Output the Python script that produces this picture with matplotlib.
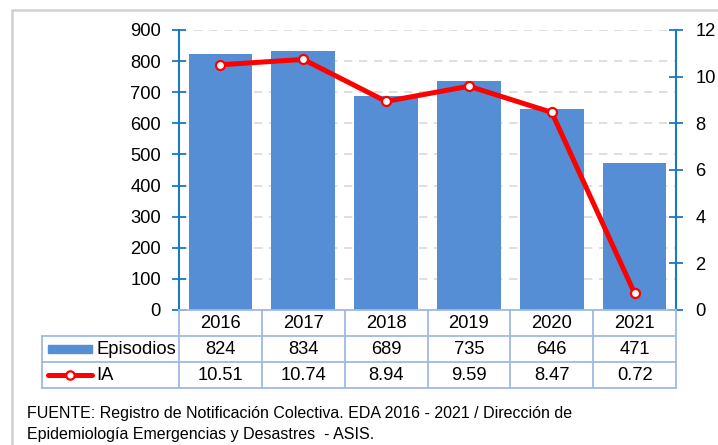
import matplotlib
matplotlib.use("Agg")
import matplotlib.pyplot as plt
import matplotlib.transforms as mtransforms
from matplotlib.patches import Rectangle
from matplotlib.lines import Line2D

years = ["2016", "2017", "2018", "2019", "2020", "2021"]
episodios = [824, 834, 689, 735, 646, 471]
ia = [10.51, 10.74, 8.94, 9.59, 8.47, 0.72]
ia_labels = ["10.51", "10.74", "8.94", "9.59", "8.47", "0.72"]
left_ticks = list(range(0, 1000, 100))
right_ticks = list(range(0, 14, 2))
footer = ("FUENTE: Registro de Notificación Colectiva. EDA 2016 - 2021 / Dirección de\n"
          "Epidemiología Emergencias y Desastres  - ASIS.")

plt.rcParams['font.family'] = ['Liberation Sans', 'DejaVu Sans']

W, H = 718, 445
fig = plt.figure(figsize=(W / 100, H / 100), dpi=100)

def fx(px):
    return px / W

def fy(py):
    return 1 - py / H

bar_blue = "#558ED5"
spine_blue = "#1B7AC6"
grid_c = "#D9D9D9"
table_c = "#9DBBE3"
fs = 13.2

ax = fig.add_axes([fx(179), fy(310), fx(676) - fx(179), fy(30) - fy(310)])
x = list(range(len(years)))
ax.bar(x, episodios, width=0.77, color=bar_blue, zorder=2)
ax.set_xlim(-0.5, len(years) - 0.5)
ax.set_ylim(0, 900)
ax.set_yticks(left_ticks)
ax.set_xticks([])
for t in left_ticks[1:]:
    ax.axhline(t, color=grid_c, lw=1.2, ls=(0, (5, 4)), zorder=1)
for s in ["top", "right", "bottom"]:
    ax.spines[s].set_visible(False)
ax.spines["left"].set_color(spine_blue)
ax.spines["left"].set_linewidth(1.5)
ax.tick_params(axis="y", direction="inout", length=10, width=1.3, color=spine_blue,
               labelsize=fs, pad=8)

ax2 = ax.twinx()
ax2.plot(x, ia, color="#FF0000", lw=3.6, marker="o", ms=6.5, mfc="white",
         mec="#FF0000", mew=1.6, zorder=3, solid_capstyle="round")
ax2.set_ylim(0, 12)
ax2.set_yticks(right_ticks)
for s in ["top", "left", "bottom"]:
    ax2.spines[s].set_visible(False)
ax2.spines["right"].set_color(spine_blue)
ax2.spines["right"].set_linewidth(1.5)
ax2.tick_params(axis="y", direction="inout", length=10, width=1.3, color=spine_blue,
                labelsize=fs, pad=9)

# data table under the chart
tr = mtransforms.blended_transform_factory(ax.transData, fig.transFigure)
rows_y = [310, 336, 362, 388]
lw_t = 1.3
fig.add_artist(Line2D([-0.5, 5.5], [fy(310)] * 2, transform=tr, color=table_c, lw=lw_t))
for ry in rows_y[1:]:
    fig.add_artist(Line2D([fx(42), fx(676)], [fy(ry)] * 2, transform=fig.transFigure,
                          color=table_c, lw=lw_t))
fig.add_artist(Line2D([fx(42)] * 2, [fy(336), fy(388)], transform=fig.transFigure,
                      color=table_c, lw=lw_t))
for i in range(len(years) + 1):
    fig.add_artist(Line2D([i - 0.5] * 2, [fy(310), fy(388)], transform=tr,
                          color=table_c, lw=lw_t))

row_mid = [(rows_y[k] + rows_y[k + 1]) / 2 for k in range(3)]
for i in x:
    fig.text(i, fy(row_mid[0]), years[i], transform=tr, ha="center", va="center", fontsize=fs)
    fig.text(i, fy(row_mid[1]), str(episodios[i]), transform=tr, ha="center", va="center", fontsize=fs)
    fig.text(i, fy(row_mid[2]), ia_labels[i], transform=tr, ha="center", va="center", fontsize=fs)

# legend keys in table
fig.add_artist(Rectangle((fx(48), fy(353)), fx(92) - fx(48), fy(345) - fy(353),
                         transform=fig.transFigure, color=bar_blue))
fig.text(fx(96), fy(row_mid[1]), "Episodios", ha="left", va="center", fontsize=fs)
fig.add_artist(Line2D([fx(48), fx(92)], [fy(375)] * 2, transform=fig.transFigure,
                      color="#FF0000", lw=3.6, solid_capstyle="round"))
fig.add_artist(Line2D([fx(70)], [fy(375)], transform=fig.transFigure, marker="o", ms=6,
                      mfc="white", mec="#FF0000", mew=1.6, ls="none"))
fig.text(fx(96), fy(row_mid[2]), "IA", ha="left", va="center", fontsize=fs)

fig.text(fx(27), fy(424), footer, ha="left", va="center", fontsize=11.5, linespacing=1.45)

# outer frame
fig.add_artist(Rectangle((fx(12), fy(460)), fx(760) - fx(12), fy(10) - fy(460),
                         transform=fig.transFigure, fill=False, ec="#D0D0D0", lw=1.8))

fig.savefig("out.png", dpi=100)
